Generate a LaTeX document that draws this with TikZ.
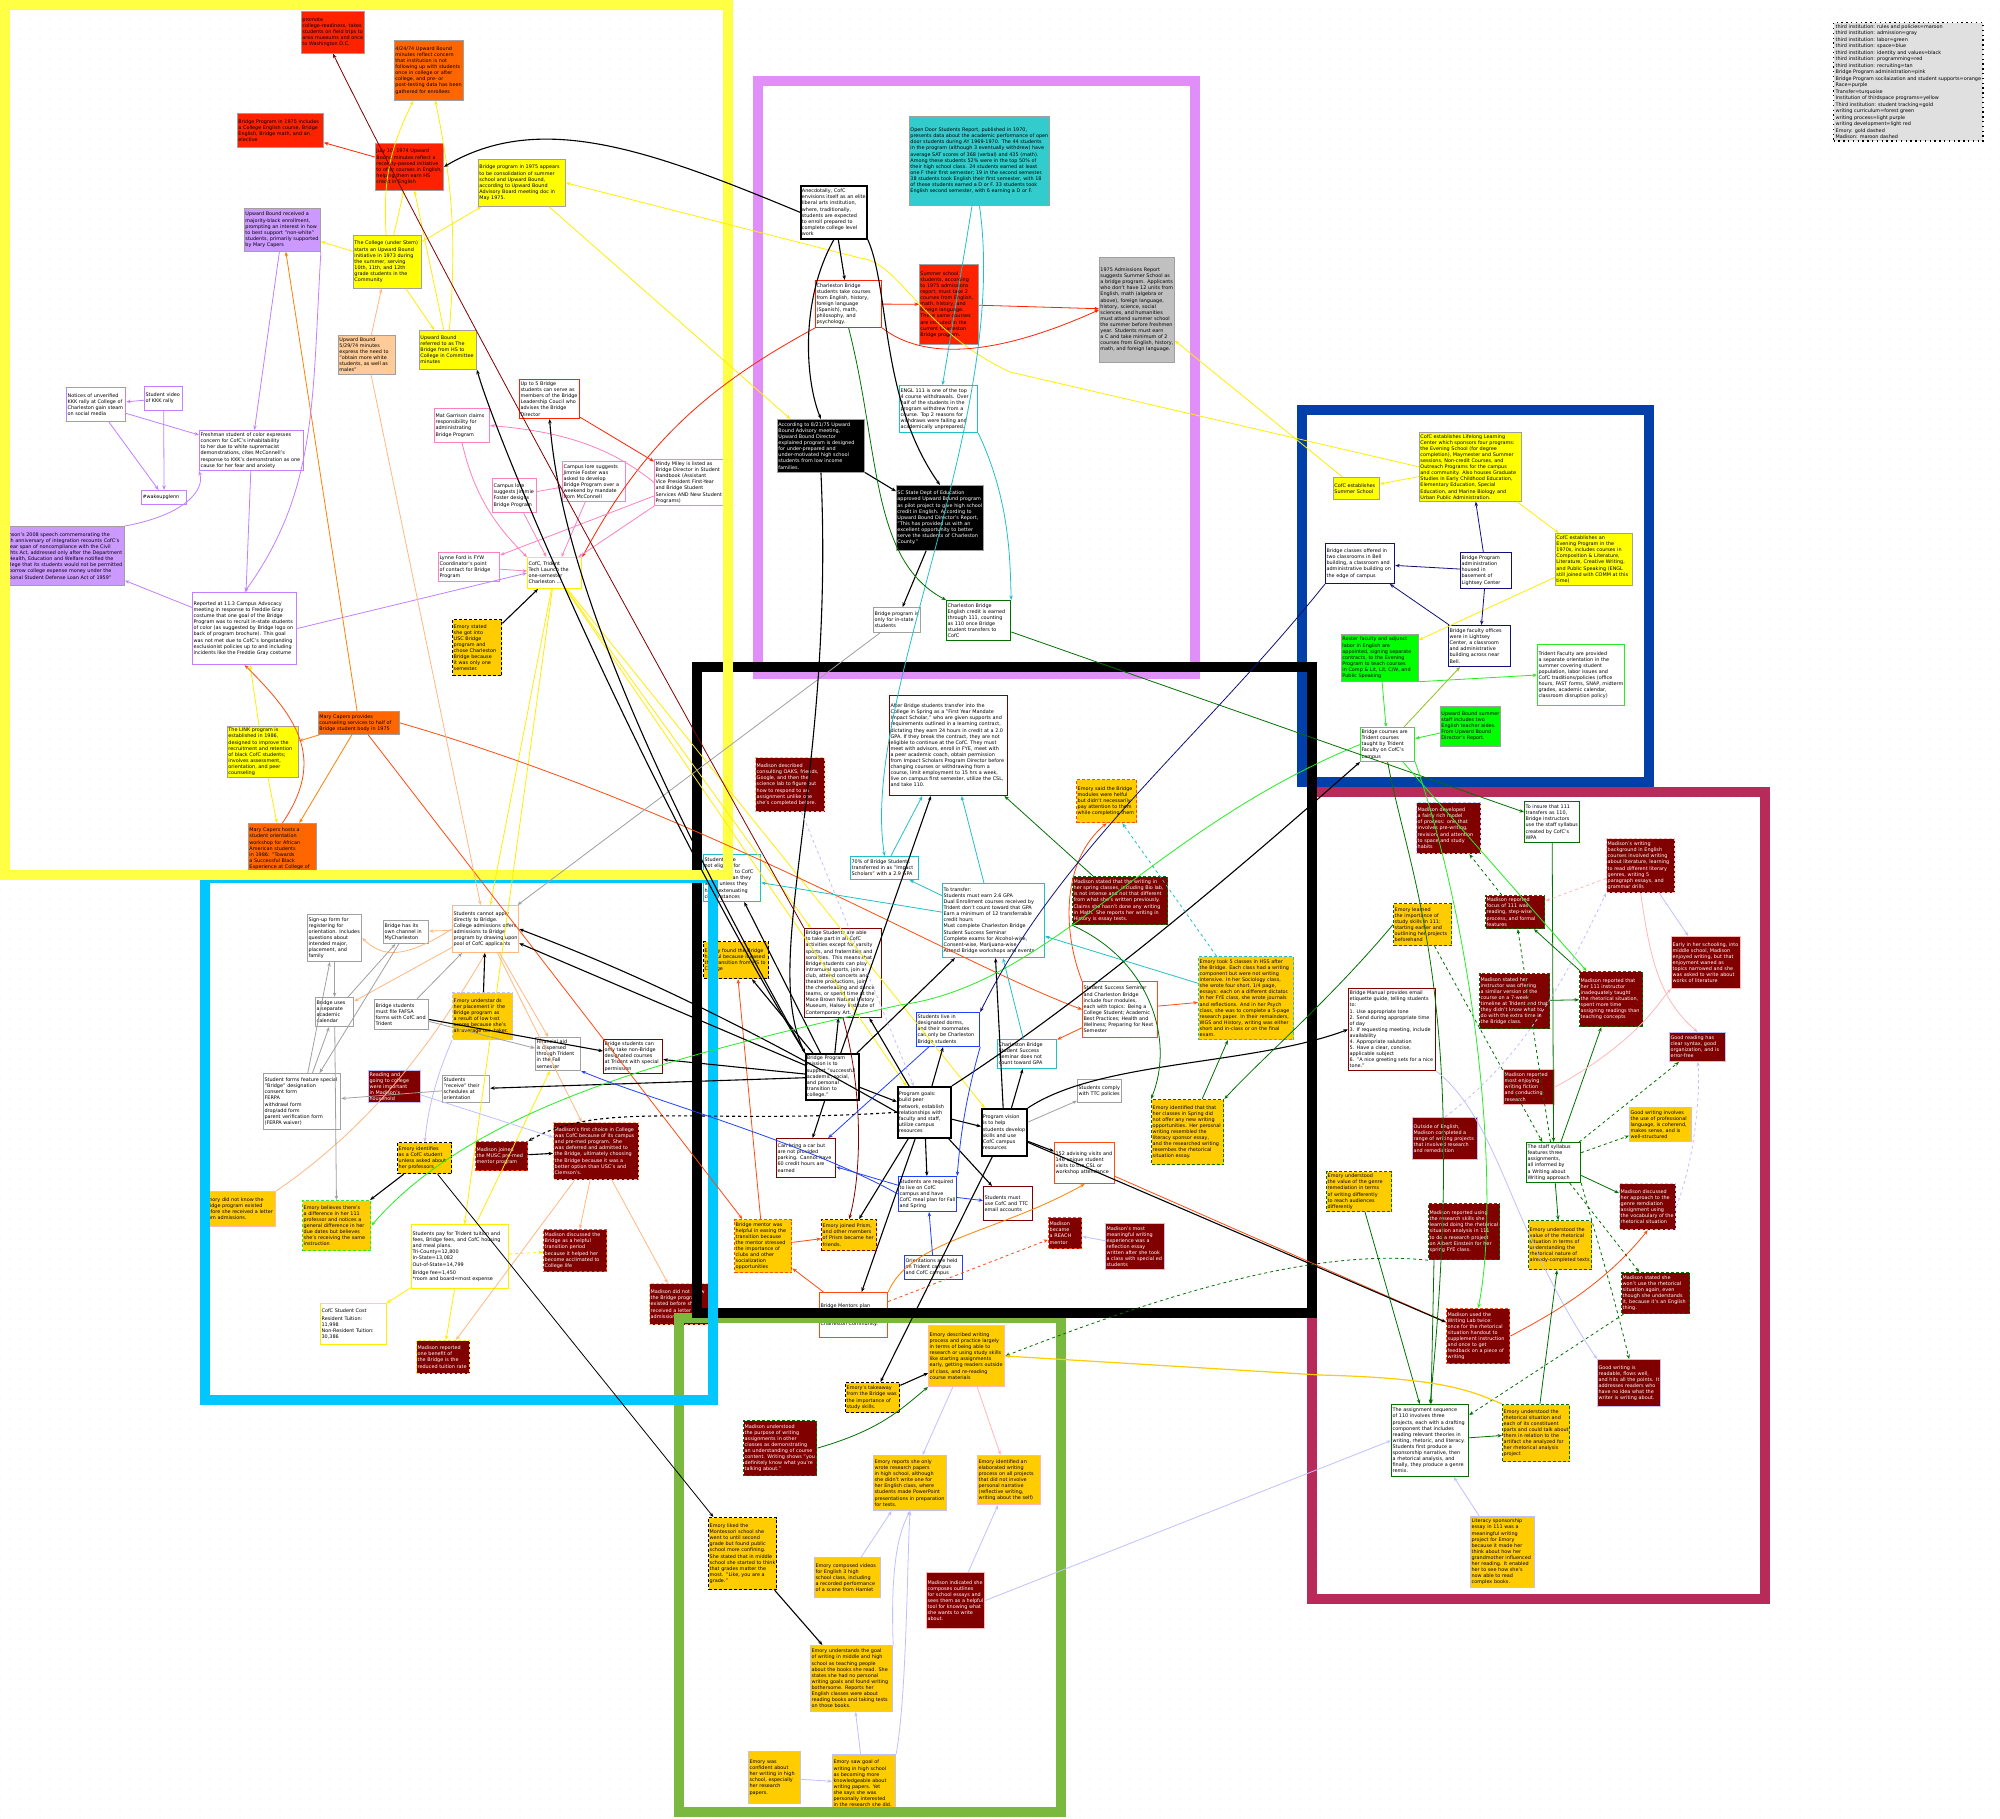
\documentclass[tikz,border=0pt]{standalone}
\usepackage{fontspec}
\setmainfont{DejaVu Sans}
\usetikzlibrary{arrows.meta,patterns.meta}
\definecolor{cYel}{HTML}{FFFF00}
\definecolor{cYelLine}{HTML}{FFEE00}
\definecolor{cRed}{HTML}{FF2200}
\definecolor{cOrg}{HTML}{FF6600}
\definecolor{cOrgLine}{HTML}{FF8000}
\definecolor{cOrRed}{HTML}{FF4A10}
\definecolor{cPur}{HTML}{CC99FF}
\definecolor{cPurLine}{HTML}{C080FF}
\definecolor{cTan}{HTML}{FFCC99}
\definecolor{cTanLine}{HTML}{FFB880}
\definecolor{cPink}{HTML}{FF80C0}
\definecolor{cTurq}{HTML}{33CCCC}
\definecolor{cTurqLine}{HTML}{20C0C8}
\definecolor{cGrayF}{HTML}{C0C0C0}
\definecolor{cGrayLine}{HTML}{A0A0A0}
\definecolor{cNavy}{HTML}{101078}
\definecolor{cBlue}{HTML}{2040FF}
\definecolor{cLime}{HTML}{00FF00}
\definecolor{cLimeLine}{HTML}{22EE22}
\definecolor{cOlive}{HTML}{90C020}
\definecolor{cForest}{HTML}{007000}
\definecolor{cMaroon}{HTML}{800000}
\definecolor{cGold}{HTML}{FFCC00}
\definecolor{cLilac}{HTML}{C0C0FF}
\definecolor{cLRed}{HTML}{FFB8B8}
\definecolor{frYel}{HTML}{FFFF44}
\definecolor{frPink}{HTML}{E08EF8}
\definecolor{frBlue}{HTML}{0040A8}
\definecolor{frCrim}{HTML}{B82A5A}
\definecolor{frCyan}{HTML}{00C8FF}
\definecolor{frGreen}{HTML}{7AB840}
\newcommand\mybox[7]{\node[#2, text width=#5pt, minimum height=#6pt] (#1) at (#3,#4) {#7};}
\begin{document}
\hyphenpenalty=10000
\exhyphenpenalty=10000
\begin{tikzpicture}[x=1pt,y=-1pt,
  bxbase/.style={rectangle, anchor=north west, inner sep=1.1pt, align=left, font=\fontsize{4.9}{6.1}\selectfont, line width=0.7pt},
  fY/.style={bxbase, fill=cYel, draw=cGrayLine},
  fR/.style={bxbase, fill=cRed, draw=cGrayLine},
  fO/.style={bxbase, fill=cOrg, draw=cGrayLine},
  fP/.style={bxbase, fill=cPur, draw=cGrayLine},
  fT/.style={bxbase, fill=cTan, draw=cGrayLine},
  fQ/.style={bxbase, fill=cTurq, draw=cGrayLine},
  fG/.style={bxbase, fill=cGrayF, draw=cGrayLine},
  fK/.style={bxbase, fill=black, text=white, draw=cGrayLine},
  fL/.style={bxbase, fill=cLime, draw=cGrayLine},
  fM/.style={bxbase, fill=cMaroon, text=white, draw=#1, line width=1pt},
  fAu/.style={bxbase, fill=cGold, draw=#1, line width=1pt},
  wb/.style={bxbase, fill=white, draw=#1, line width=1pt},
  wk/.style={bxbase, fill=white, draw=black, line width=1.6pt},
  dsh/.style={dash pattern=on 3pt off 2pt, line width=1.2pt},
  ar/.style={line width=0.8pt, -{Stealth[length=4.5pt,width=3.5pt]}},
  arb/.style={ar, line width=1.1pt, black}]
\useasboundingbox (0,0) rectangle (2000,1819);
\fill[white] (0,0) rectangle (2000,1819);
\fill[pattern={Dots[distance=10pt,radius=0.45pt]}, pattern color=black!25] (0,0) rectangle (2000,1819);

% ---------- nodes ----------
\mybox{n1}{fR}{301}{11}{61}{42}{promote college-readiness, takes students on field trips to area museums and once to Washington D.C.}
\mybox{n2}{fO}{394}{40}{67}{60}{4/24/74 Upward Bound minutes reflect concern that institution is not following up with students once in college or after college, and pre- or post-testing data has been gathered for enrollees}
\mybox{n3}{fR}{237}{113}{84}{34}{Bridge Program in 1975 includes a College English course, Bridge English, Bridge math, and an elective}
\mybox{n4}{fR}{375}{143}{66}{47}{July 10, 1974 Upward Bound minutes reflect a recently-passed initiative to offer courses in English, helping them earn HS credit in English}
\mybox{n5}{fY}{478}{159}{85}{47}{Bridge program in 1975 appears to be consolidation of summer school and Upward Bound, according to Upward Bound Advisory Board meeting doc in May 1975.}
\mybox{n6}{fP}{244}{208}{74}{43}{Upward Bound received a majority-black enrollment, prompting an interest in how to best support "non-white" students, primarily supported by Mary Capers}
\mybox{n7}{fY}{353}{235}{66}{53}{The College (under Stern) starts an Upward Bound initiative in 1973 during the summer, serving 10th, 11th, and 12th grade students in the Community}
\mybox{n8}{fT}{338}{335}{55}{39}{Upward Bound 5/29/74 minutes express the need to "obtain more white students, as well as males"}
\mybox{n9}{fY}{419}{330}{55}{39}{Upward Bound referred to as The Bridge from HS to College in Committee minutes}
\mybox{n10}{wb=cPurLine}{66}{387}{57}{34}{Notices of unverified KKK rally at College of Charleston gain steam on social media}
\mybox{n11}{wb=cPurLine}{144}{386}{36}{24}{Student video of KKK rally}
\mybox{n12}{wb=cPurLine}{141}{490}{43}{14}{\#wakeupglenn}
\mybox{n13}{wb=cPurLine}{199}{430}{102}{40}{Freshman student of color expresses concern for CofC's inhabitability to her due to white supremacist demonstrations, cites McConnell's response to KKK's demonstration as one cause for her fear and anxiety}
\mybox{n14}{fP}{1}{526}{121}{59}{Benson's 2008 speech commemorating the 50th anniversary of integration recounts CofC's 4-year span of noncompliance with the Civil Rights Act, addressed only after the Department of Health, Education and Welfare notified the College that its students would not be permitted to borrow college expense money under the National Student Defense Loan Act of 1959"}
\mybox{n15}{wb=cPurLine}{192}{592}{102}{72}{Reported at 11.3 Campus Advocacy meeting in response to Freddie Gray costume that one goal of the Bridge Program was to recruit in-state students of color (as suggested by Bridge logo on back of program brochure). This goal was not met due to CofC's longstanding exclusionist policies up to and including incidents like the Freddie Gray costume}
\mybox{n16}{wb=cPink}{434}{408}{53}{34}{Mat Garrison claims responsibility for administrating Bridge Program}
\mybox{n17}{wb=cPink}{492}{478}{42}{34}{Campus lore suggests Jimmie Foster designs Bridge Program}
\mybox{n18}{wb=cPink}{438}{552}{59}{29}{Lynne Ford is FYW Coordinator's point of contact for Bridge Program}
\mybox{n19}{wb=cRed}{519}{379}{58}{39}{Up to 5 Bridge students can serve as members of the Bridge Leadership Coucil who advises the Bridge Director}
\mybox{n20}{wb=cPink}{562}{461}{61}{40}{Campus lore suggests Jimmie Foster was asked to develop Bridge Program over a weekend by mandate from McConnell}
\mybox{n21}{wb=cPink}{654}{459}{67}{46}{Mindy Miley is listed as Bridge Director in Student Handbook (Assistant Vice President First-Year and Bridge Student Services AND New Student Programs)}
\mybox{n22}{wb=cYelLine}{527}{557}{52}{31}{CofC, Trident Tech Launch the one-semester Charleston ...}
\mybox{n23}{wk}{800}{185}{64}{53}{Anecdotally, CofC envisions itself as an elite liberal arts institution, where, traditionally, students are expected to enroll prepared to complete college level work}
\mybox{n24}{fQ}{909}{116}{138}{89}{Open Door Students Report, published in 1970, presents data about the academic performance of open door students during AY 1969-1970. The 44 students in the program (although 3 eventually withdrew) have average SAT scores of 368 (verbal) and 435 (math). Among these students 52\% were in the top 50\% of their high school class. 24 students earned at least one F their first semester; 19 in the second semester. 38 students took English their first semester, with 18 of these students earned a D or F. 33 students took English second semester, with 6 earning a D or F.}
\mybox{n25}{wb=cRed}{815}{280}{64}{47}{Charleston Bridge students take courses from English, history, foreign language (Spanish), math, philosophy, and psychology.}
\mybox{n26}{fR}{919}{264}{57}{80}{Summer school students, according to 1975 admissions report, must take 2 courses from English, math, history, and foreign language. These same courses are included in the current Charleston Bridge program.}
\mybox{n27}{wb=cTurqLine}{899}{385}{76}{47}{ENGL 111 is one of the top 4 course withdrawals. Over half of the students in the program withdrew from a course. Top 2 reasons for withdraws were failing and academically unprepared.}
\mybox{n28}{fK}{777}{419}{85}{53}{According to 8/21/75 Upward Bound Advisory meeting, Upward Bound Director explained program is designed for under-prepared and under-motivated high school students from low income families.}
\mybox{n29}{fK}{896}{485}{85}{65}{SC State Dept of Education approved Upward Bound program as pilot project to give high school credit in English. According to Upward Bound Director's Report, "This has provided us with an excellent opportunity to better serve the students of Charleston County."}
\mybox{n30}{wb=cForest}{946}{600}{62}{40}{Charleston Bridge English credit is earned through 111, counting as 110 once Bridge student transfers to CofC}
\mybox{n31}{fG}{1099}{257}{73}{105}{1975 Admissions Report suggests Summer School as a bridge program. Applicants who don't have 12 units from English, math (algebra or above), foreign language, history, science, social sciences, and humanities must attend summer school the summer before freshmen year. Students must earn a C and take minimum of 2 courses from English, history, math, and foreign language.}
\mybox{n32}{fY}{1333}{477}{44}{22}{CofC establishes Summer School}
\mybox{n33}{fY}{1419}{432}{100}{69}{CofC establishes Lifelong Learning Center which sponsors four programs: the Evening School (for degree completion), Maymester and Summer sessions, Non-credit Courses, and Outreach Programs for the campus and community. Also houses Graduate Studies in Early Childhood Education, Elementary Education, Special Education, and Marine Biology and Urban Public Administration.}
\mybox{n34}{wb=cNavy}{1325}{543}{67}{40}{Bridge classes offered in two classrooms in Bell building, a classroom and administrative building on the edge of campus}
\mybox{n35}{wb=cNavy}{1460}{552}{49}{36}{Bridge Program administration housed in basement of Lightsey Center}
\mybox{n37}{fY}{1555}{533}{75}{52}{CofC establishes an Evening Program in the 1970s, includes courses in Composition \& Literature, Literature, Creative Writing, and Public Speaking (ENGL still joined with COMM at this time)}
\mybox{n38}{fL}{1341}{634}{75}{47}{Roster faculty and adjunct labor in English are appointed, signing separate contracts, to the Evening Program to teach courses in Comp \& Lit, Lit, C/W, and Public Speaking}
\mybox{n39}{wb=cNavy}{1448}{625}{60}{41}{Bridge faculty offices were in Lightsey Center, a classroom and administrative building across near Bell.}
\mybox{n40}{wb=cLimeLine}{1360}{727}{52}{34}{Bridge courses are Trident courses taught by Trident Faculty on CofC's campus}
\mybox{n41}{fL}{1440}{706}{58}{40}{Upward Bound summer staff includes two English teacher aides. From Upward Bound Director's Report.}
\mybox{n42}{wb=cLimeLine}{1537}{644}{85}{61}{Trident Faculty are provided a separate orientation in the summer covering student population, labor issues and CofC traditions/policies (office hours, FAST forms, SNAP, midterm grades, academic calendar, classroom disruption policy)}
\mybox{n43}{wb=cGrayLine}{873}{607}{45}{25}{Bridge program is only for in-state students}
\mybox{n44}{wb=cMaroon}{889}{695}{116}{100}{After Bridge students transfer into the College in Spring as a "First Year Mandate Impact Scholar," who are given supports and requirements outlined in a learning contract, dictating they earn 24 hours in credit at a 2.0 GPA. If they break the contract, they are not eligible to continue at the CofC. They must meet with advisors, enroll in FYE, meet with a peer academic coach, obtain permission from Impact Scholars Program Director before changing courses or withdrawing from a course, limit employment to 15 hrs a week, live on campus first semester, utilize the CSL, and take 110.}
\mybox{n45}{fM=cTanLine,dsh}{755}{757}{67}{54}{Madison described consulting OAKS, friends, Google, and then the science lab to figure out how to respond to an assignment unlike one she's completed before.}
\mybox{n46}{wb=cTurqLine}{703}{854}{55}{47}{Students are not eligible for transferring to CofC early, nor can they leave unless they have extenuating circumstances}
\mybox{n47}{wb=cTurqLine}{850}{856}{66}{23}{70\% of Bridge Students transferred in as "Impact Scholars" with a 2.9 GPA}
\mybox{n48}{wb=cTurqLine}{942}{883}{100}{74}{To transfer:\\ *Students must earn 2.6 GPA\\ *Dual Enrollment courses received by Trident don't count toward that GPA\\ *Earn a minimum of 12 transferrable credit hours\\ *Must complete Charleston Bridge Student Success Seminar\\ *Complete exams for Alcohol-wise, Consent-wise, Marijuana-wise\\ *Attend Bridge workshops and events}
\mybox{n49}{fAu=black,dsh}{703}{941}{63}{37}{Emory found the Bridge helpful because it eased the transition from HS to College}
\mybox{n50}{wb=cMaroon}{804}{928}{75}{89}{Bridge Students are able to take part in all CofC activities except for varsity sports, and fraternities and sororities. This means that Bridge students can play intramural sports, join a club, attend concerts and theatre productions, join the cheerleading and dance teams, or spend time at the Mace Brown Natural History Museum, Halsey Institute of Contemporary Art.}
\mybox{n51}{wb=cBlue}{916}{1012}{61}{34}{Students live in designated dorms, and their roommates can only be Charleston Bridge students}
\mybox{n52}{wk}{805}{1053}{51}{46}{Bridge Program mission is to support "successful academic, social, and personal transition to college."}
\mybox{n53}{wk}{897}{1086}{51}{51}{Program goals: build peer network, establish relationships with faculty and staff, utilize campus resources}
\mybox{n54}{wb=cMaroon}{776}{1138}{57}{39}{Can bring a car but are not provided parking. Cannot have 60 credit hours are earned}
\mybox{n55}{wb=cBlue}{898}{1176}{56}{35}{Students are required to live on CofC campus and have CofC meal plan for Fall and Spring}
\mybox{n56}{wb=cMaroon}{983}{1186}{47}{34}{Students must use CofC and TTC email accounts}
\mybox{n57}{wk}{981}{1108}{43}{47}{Program vision is to help students develop skills and use CofC campus resources}
\mybox{n58}{wb=cMaroon}{603}{1039}{57}{34}{Bridge students can only take non-Bridge designated courses at Trident with special permission}
\mybox{n59}{wb=cGrayLine}{535}{1037}{43}{33}{Financial aid is dispersed through Trident in the Fall semester}
\mybox{n60}{fM=cTanLine,dsh}{553}{1122}{83}{57}{Madison's first choice in College was CofC because of its campus and pre-med program. She was deferred and admitted to the Bridge, ultimately choosing the Bridge because it was a better option than USC's and Clemson's.}
\mybox{n61}{fM=cOrRed,dsh}{475}{1141}{50}{29}{Madison joined the MUSC pre-med mentor program}
\mybox{n62}{fY}{227}{726}{69}{51}{The LINK program is established in 1986, designed to improve the recruitment and retention of black CofC students; involves assessment, orientation, and peer counseling}
\mybox{n63}{fO}{318}{711}{79}{23}{Mary Capers provides counseling services to half of Bridge student body in 1975}
\mybox{n64}{fO}{248}{823}{66}{56}{Mary Capers hosts a student orientation workshop for African American students in 1986: "Towards a Successful Black Experience at College of Charleston"}
\mybox{n65}{fAu=black,dsh}{452}{619}{47}{56}{Emory stated she got into USC Bridge program and chose Charleston Bridge because it was only one semester.}
\mybox{n66}{wb=cTanLine}{452}{905}{64}{47}{Students cannot apply directly to Bridge. College admissions offers admissions to Bridge program by drawing upon pool of CofC applicants}
\mybox{n67}{wb=cGrayLine}{307}{914}{52}{47}{Sign-up form for registering for orientation. Includes questions about intended major, placement, and family}
\mybox{n68}{wb=cGrayLine}{383}{920}{43}{23}{Bridge has its own channel in MyCharleston}
\mybox{n69}{wb=cGrayLine}{315}{997}{36}{29}{Bridge uses a separate academic calendar}
\mybox{n70}{wb=cGrayLine}{374}{999}{52}{30}{Bridge students must file FAFSA forms with CofC and Trident}
\mybox{n71}{fAu=cLilac,dsh}{452}{992}{58}{47}{Emory understands her placement in the Bridge program as a result of low test scores because she's an average test taker.}
\mybox{n72}{wb=cGrayLine}{263}{1073}{75}{56}{Student forms feature special "Bridge" designation\\ *consent form\\ *FERPA\\ *withdrawl form\\ *drop/add form\\ *parent verification form (FERPA waiver)}
\mybox{n73}{fM=cLilac}{368}{1070}{50}{32}{Reading and going to college were important in Madison's household}
\mybox{n74}{wb=cGrayLine}{442}{1075}{45}{27}{Students "receive" their schedules at orientation}
\mybox{n75}{fAu=black,dsh}{397}{1142}{52}{31}{Emory identifies as a CofC student unless asked about her professors}
\mybox{n76}{fAu=cLRed}{203}{1191}{70}{35}{Emory did not know the Bridge program existed before she received a letter from admissions.}
\mybox{n77}{fAu=cLimeLine,dsh}{302}{1200}{66}{50}{Emory believes there's a difference in her 111 professor and notices a general difference in her due dates but believes she's receiving the same instruction}
\mybox{n78}{wb=cYelLine}{411}{1224}{95}{64}{Students pay for Trident tuition and fees, Bridge fees, and CofC housing and meal plans.\\ Tri-County=12,800\\ In-State=13,082\\ Out-of-State=14,799\\[2pt] Bridge fee=1,450\\ **room and board=most expense}
\mybox{n79}{wb=cYelLine}{320}{1303}{64}{41}{CofC Student Cost\\[2pt] Resident Tuition:\\ 11,998\\ Non-Resident Tuition:\\ 30,386}
\mybox{n80}{fM=cYelLine,dsh}{416}{1340}{51}{33}{Madison reported one benefit of the Bridge is the reduced tuition rate}
\mybox{n81}{fM=cOrRed,dsh}{543}{1229}{61}{42}{Madison discussed the Bridge as a helpful transition period because it helped her become acclimated to College life}
\mybox{n82}{fM=cTanLine,dsh}{649}{1283}{57}{41}{Madison did not know the Bridge program existed before she received a letter from admissions}
\mybox{n83}{fAu=cOrRed,dsh}{734}{1219}{55}{53}{Bridge mentor was helpful in easing the transition because the mentor stressed the importance of clubs and other socialization opportunities}
\mybox{n84}{fAu=cMaroon,dsh}{821}{1219}{53}{31}{Emory joined Prism, and other members of Prism became her friends.}
\mybox{n85}{wb=cBlue}{904}{1255}{56}{24}{Orientations are held on Trident campus and CofC campus}
\mybox{n86}{wb=cOrRed}{819}{1292}{66}{45}{Bridge Mentors plan programs to help Bridge students connect with the Charleston Community.}
\mybox{n87}{fAu=cLRed}{928}{1325}{74}{61}{Emory described writing process and practice largely in terms of being able to research or using study skills like starting assignments early, getting readers outside of class, and re-reading course materials}
\mybox{n88}{fAu=black,dsh}{845}{1382}{52}{30}{Emory's takeaway from the Bridge was the importance of study skills.}
\mybox{n89}{fM=cForest,dsh}{743}{1420}{71}{55}{Madison understood the purpose of writing assignments in other classes as demonstrating an understanding of course content. Writing shows "you definitely know what you're talking about."}
\mybox{n90}{fAu=cLilac}{873}{1455}{71}{55}{Emory reports she only wrote research papers in high school, although she didn't write one for her English class, where students made PowerPoint presentations in preparation for tests.}
\mybox{n91}{fAu=cLRed}{977}{1455}{61}{49}{Emory identified an elaborated writing process on all projects that did not involve personal narrative (reflective writing, writing about the self)}
\mybox{n92}{fAu=black,dsh}{708}{1517}{66}{72}{Emory liked the Montessori school she went to until second grade but found public school more confining. She stated that in middle school she started to think that grades matter the most. "Like, you are a grade."}
\mybox{n93}{fAu=cLilac}{814}{1557}{64}{40}{Emory composed videos for English 3 high school class, including a recorded performance of a scene from Hamlet}
\mybox{n94}{fM=cLRed}{926}{1572}{56}{56}{Madison indicated she composes outlines for school essays and sees them as a helpful tool for knowing what she wants to write about.}
\mybox{n95}{fAu=cLilac}{810}{1645}{80}{66}{Emory understands the goal of writing in middle and high school as teaching people about the books she read. She states she had no personal writing goals and found writing bothersome. Reports her English classes were about reading books and taking tests on those books.}
\mybox{n96}{fAu=cLilac}{748}{1751}{50}{52}{Emory was confident about her writing in high school, especially her research papers.}
\mybox{n97}{fAu=cLilac}{832}{1754}{61}{58}{Emory saw goal of writing in high school as becoming more knowledgeable about writing papers. Yet she says she was personally interested in the research she did.}
\mybox{n98}{fAu=cOrRed,dsh}{1076}{779}{58}{43}{Emory said the Bridge modules were helful but didn't necessarily pay attention to them while completing them}
\mybox{n99}{fM=cForest,dsh}{1072}{876}{93}{48}{Madison stated that the writing in her spring classes, including Bio lab, is not intense and not that different from what she's written previously. Claims she hasn't done any writing in Math. She reports her writing in History is essay tests.}
\mybox{n100}{fAu=cTurqLine,dsh}{1198}{956}{93}{83}{Emory took 5 classes in HSS after the Bridge. Each class had a writing component but were not writing intensive. In her Sociology class, she wrote four short, 1/4 page, essays: each on a different dictator. In her FYE class, she wrote journals and reflections. And in her Psych class, she was to complete a 5-page research paper. In their remainders, WGS and History, writing was either short and in-class or on the final exam.}
\mybox{n101}{wb=cOrRed}{1082}{981}{73}{56}{Student Success Seminar and Charleston Bridge include four modules, each with topics: Being a College Student; Academic Best Practices; Health and Wellness; Preparing for Next Semester}
\mybox{n102}{wb=cTurqLine}{997}{1039}{57}{29}{Charleston Bridge Student Success Seminar does not count toward GPA}
\mybox{n103}{wb=cGrayLine}{1077}{1079}{42}{23}{Students comply with TTC policies}
\mybox{n104}{wb=cOrRed}{1054}{1142}{58}{41}{152 advising visits and 146 unique student visits to the CSL or workshop attendance}
\mybox{n105}{fAu=cForest,dsh}{1151}{1099}{70}{65}{Emory identified that that her classes in Spring did not offer any new writing opportunities. Her perosnal writing resembled the literacy sponsor essay, and the researched writing resembes the rhetorical situation essay.}
\mybox{n106}{fM=cLilac,dsh}{1416}{802}{62}{51}{Madison developed a fairly rich model of process: one that involves pre-writing, revision, and attention to space and study habits}
\mybox{n107}{fAu=cForest,dsh}{1393}{903}{56}{42}{Emory learned the importance of study skills in 111: starting earlier and outlining her projects beforehand}
\mybox{n108}{wb=cMaroon}{1348}{988}{85}{82}{Bridge Manual provides email etiquette guide, telling students to:\\ 1. Use appropriate tone\\ 2. Send during appropriate time of day\\ 3. If requesting meeting, include availability\\ 4. Appropriate salutation\\ 5. Have a clear, concise, applicable subject\\ 6. "A nice greeting sets for a nice tone."}
\mybox{n109}{fM=cForest,dsh}{1485}{895}{57}{33}{Madison reported focus of 111 was reading, step-wise process, and formal features}
\mybox{n110}{fM=cForest,dsh}{1479}{973}{68}{55}{Madison stated her instructor was offering a similar version of the course on a 7-week timeline at Trident and that they didn't know what to do with the extra time in the Bridge class.}
\mybox{n111}{fM=cLilac}{1412}{1117}{63}{42}{Outside of English, Madison completed a range of writing projects that involved research and remediation}
\mybox{n112}{fAu=cForest,dsh}{1326}{1171}{63}{40}{Emory understood the value of the genre remediation in terms of writing differently to reach audiences differently}
\mybox{n113}{fM=cForest,dsh}{1428}{1203}{69}{56}{Madison reported using the research skills she learned doing the rhetorical situation analysis in 111 to do a research project on Albert Einstein for her spring FYE class.}
\mybox{n114}{wb=cForest}{1524}{801}{53}{41}{To insure that 111 transfers as 110, Bridge instructors use the staff syllabus created by CofC's WPA}
\mybox{n115}{fM=cLRed,dsh}{1606}{838}{66}{54}{Madison's writing background in English courses involved writing about literature, learning to read different literary genres, writing 5 paragraph essays, and grammar drills}
\mybox{n116}{fM=cLRed}{1671}{936}{67}{52}{Early in her schooling, into middle school, Madison enjoyed writing, but that enjoyment waned as topics narrowed and she was asked to write about works of literature}
\mybox{n117}{fM=cForest,dsh}{1579}{971}{61}{55}{Madison reported that her 111 instructor inadequately taught the rhetorical situation, spent more time assigning readings than teaching concepts}
\mybox{n118}{fM=cLilac}{1669}{1032}{54}{29}{Good reading has clear syntax, good organization, and is error-free}
\mybox{n119}{fM=cLRed}{1503}{1069}{49}{35}{Madison reported most enjoying writing fiction and conducting research}
\mybox{n120}{fAu=cLilac}{1629}{1107}{60}{34}{Good writing involves the use of professional language, is coherend, makes sense, and is well-structured}
\mybox{n121}{wb=cForest}{1526}{1142}{52}{40}{The staff syllabus features three assignments, all informed by a Writing about Writing approach}
\mybox{n122}{fM=cLilac,dsh}{1619}{1183}{54}{46}{Madison discussed her approach to the genre remdiation assignment using the vocabulary of the rhetorical situation}
\mybox{n123}{fAu=cForest,dsh}{1528}{1220}{61}{49}{Emory understood the value of the rhetorical situation in terms of understanding the rhetorical nature of already-completed texts}
\mybox{n124}{fM=cForest,dsh}{1621}{1272}{66}{41}{Madison stated she won't use the rhetorical situation again, even though she understands it, because it's an English thing.}
\mybox{n125}{fM=cLilac}{1597}{1359}{61}{47}{Good writing is readable, flows well, and hits all the points. It addresses readers who have no idea what the writer is writing about.}
\mybox{n126}{fAu=cForest,dsh}{1502}{1404}{65}{57}{Emory understood the rhetorical situation and each of its constituent parts and could talk about them in relation to the artifact she analyzed for her rhetorical analysis project}
\mybox{n127}{fAu=cLilac}{1470}{1516}{62}{71}{Literacy sponsorship essay in 111 was a meaningful writing project for Emory because it made her think about how her grandmother influenced her reading. It enabled her to see how she's now able to read complex books.}
\mybox{n128}{fM=cOrRed,dsh}{1446}{1308}{61}{55}{Madison used the Writing Lab twice: once for the rhetorical situation handout to supplement instruction and once to get feedback on a piece of writing}
\mybox{n129}{wb=cForest}{1391}{1404}{75}{72}{The assignment sequence of 110 involves three projects, each with a drafting component that includes reading relevant theories in writing, rhetoric, and literacy. Students first produce a sponsorship narrative, then a rhetorical analysis, and finally, they produce a genre remix.}
\mybox{n130}{fM=cOrRed,dsh}{1048}{1217}{31}{31}{Madison became a REACH mentor}
\mybox{n131}{fM=cLilac}{1105}{1223}{57}{46}{Madison's most meaningful writing experience was a reflection essay written after she took a class with special ed students}

\node[anchor=north west, fill=black!12, draw=black, line width=1.3pt, dash pattern=on 1.3pt off 3.5pt, inner sep=2pt, align=left, font=\fontsize{4.9}{6.5}\selectfont] (n36) at (1833,22) {third institution: rules and policies=maroon\\ third institution: admission=gray\\ third institution: labor=green\\ third institution: space=blue\\ third institution: identity and values=black\\ third institution: programming=red\\ third institution: recruiting=tan\\ Bridge Program administration=pink\\ Bridge Program socilaization and student supports=orange\\ Race=purple\\ Transfer=turquoise\\ Institution of thirdspace programs=yellow\\ Third institution: student tracking=gold\\ writing curriculum=forest green\\ writing process=light purple\\ writing development=light red\\ Emory: gold dashed\\ Madison: maroon dashed};

% ---------- frames ----------
\draw[line width=10pt, frGreen] (679,1318) rectangle (1061,1812);
\draw[line width=10pt, frCrim] (1312,792) rectangle (1765,1599);
\draw[line width=10pt, frBlue] (1302,410) rectangle (1649,782);
\draw[line width=10pt, frPink] (758,81) rectangle (1195,674);
\draw[line width=10pt, black] (697,667) rectangle (1312,1313);
\draw[line width=10pt, frCyan] (205,878) rectangle (713,1400);
\draw[line width=10pt, frYel] (5,5) rectangle (728,875);

% ---------- connectors ----------
% yellow
\draw[ar,cYelLine] (n7) to[bend left=15] (n2);
\draw[ar,cYelLine] (n7) -- (n4);
\draw[ar,cYelLine] (n7) -- (n5);
\draw[ar,cYelLine] (n7) -- (n6);
\draw[ar,cYelLine] (n7) -- (n9);
\draw[ar,cYelLine] (n9) to[bend right=8] (n2);
\draw[ar,cYelLine] (n9) -- (n4);
\draw[ar,cYelLine] (n5) -- (n28);
\draw[ar,cYelLine] (n33.west) -- (1010,372) .. controls (920,330) and (900,262) .. (860,258) -- (n5.east);
\draw[ar,cYelLine] (n32) -- (n31);
\draw[ar,cYelLine] (n33) -- (n32);
\draw[ar,cYelLine] (n33) -- (n37);
\draw[ar,cYelLine] (n37) -- (n38);
\draw[ar,cYelLine] (n62) -- (n15);
\draw[ar,cYelLine] (n62) -- (n64);
\draw[ar,cYelLine] (n22) -- (n66);
\draw[ar,cYelLine] (n22) -- (n50);
\draw[ar,cYelLine] (n22) -- (n53);
\draw[ar,cYelLine] (n22) -- (n57);
\draw[ar,cYelLine] (n22) -- (n78);
\draw[ar,cYelLine] (n78) -- (n79);
\draw[ar,cYelLine] (n78) -- (n80);
\draw[ar,cYelLine] (n78) -- (n59);
\draw[ar,cYelLine,dashed] (n78) -- (n81);
% red
\draw[ar,cRed] (n4) -- (n3);
\draw[ar,cRed] (n19) -- (n21);
\draw[ar,cRed] (n25.south west) .. controls (700,390) and (640,450) .. (n22.north east);
\draw[ar,cRed] (n25) -- (n26);
\draw[ar,cRed] (n26) -- (n31);
\draw[ar,cRed] (n25.south east) .. controls (930,365) and (1010,350) .. (n31.west);
% orange
\draw[ar,cOrgLine] (n63) -- (n6);
\draw[ar,cOrgLine] (n63) -- (n62);
\draw[ar,cOrgLine] (n63) -- (n64);
\draw[ar,cOrgLine] (n86.north east) .. controls (910,1240) and (1000,1232) .. (n104.south);
\draw[ar,cOrRed] (n64.north) .. controls (325,760) and (300,720) .. (n15.south);
\draw[ar,cOrRed] (n63.east) .. controls (700,810) and (950,960) .. (n101.west);
\draw[ar,cOrRed] (n63) -- (n83);
\draw[ar,cOrRed] (n101.north west) .. controls (1062,930) and (1062,860) .. (n98.south);
\draw[ar,cOrRed] (n101) -- (n100);
\draw[ar,cOrRed] (n101) -- (n102);
\draw[ar,cOrRed] (n104) -- (n128);
\draw[ar,cOrRed] (n83) -- (n49);
\draw[ar,cOrRed] (n83) -- (n84);
\draw[ar,cOrRed] (n86) -- (n83);
\draw[ar,cOrRed,dashed] (n86) -- (n130);
\draw[ar,cOrRed] (n128.east) .. controls (1540,1320) and (1600,1290) .. (n122.south);
% purple
\draw[ar,cPurLine] (n6) -- (n13);
\draw[ar,cPurLine] (n6.south east) .. controls (312,400) and (318,490) .. (n15.north);
\draw[ar,cPurLine] (n11) -- (n10);
\draw[ar,cPurLine] (n11) -- (n12);
\draw[ar,cPurLine] (n10) -- (n12);
\draw[ar,cPurLine] (n10) -- (n13);
\draw[ar,cPurLine] (n14.north east) .. controls (185,515) and (205,490) .. (n13.south west);
\draw[ar,cPurLine] (n13) -- (n15);
\draw[ar,cPurLine] (n15) -- (n14);
\draw[ar,cPurLine] (n15.east) -- (n22.west);
% pink
\draw[ar,cPink] (n21.west) .. controls (600,438) and (540,430) .. (n16.east);
\draw[ar,cPink] (n21) -- (n18);
\draw[ar,cPink] (n17) -- (n20);
\draw[ar,cPink] (n17) -- (n22);
\draw[ar,cPink] (n20) -- (n22);
\draw[ar,cPink] (n21) -- (n22);
\draw[ar,cPink] (n18) -- (n22);
\draw[ar,cPink] (n16.south) .. controls (475,500) and (500,530) .. (n22.north west);
% tan
\draw[ar,cTanLine] (n8) -- (n7);
\draw[ar,cTanLine] (n8) -- (n66);
\draw[ar,cTanLine] (n66.west) .. controls (400,962) and (380,955) .. (n67.east);
\draw[ar,cTanLine] (n66) -- (n68);
\draw[ar,cTanLine] (n66) -- (n69);
\draw[ar,cTanLine] (n66) -- (n59);
\draw[ar,cTanLine] (n66) -- (n60);
\draw[ar,cTanLine] (n76.north east) .. controls (380,1120) and (440,1030) .. (n66.south);
\draw[ar,cTanLine] (n60) -- (n81);
\draw[ar,cTanLine] (n60) -- (n82);
\draw[ar,cTanLine] (n60) -- (n80);
% gray
\draw[ar,cGrayLine] (n67) -- (n69);
\draw[ar,cGrayLine] (n72) -- (n67);
\draw[ar,cGrayLine] (n72) -- (n69);
\draw[ar,cGrayLine] (n69) -- (n68);
\draw[ar,cGrayLine] (n68) -- (n72);
\draw[ar,cGrayLine] (n69) -- (n77);
\draw[ar,cGrayLine] (n70) -- (n66);
\draw[ar,cGrayLine] (n74) -- (n72);
\draw[ar,cGrayLine] (n70) -- (n59);
\draw[ar,cGrayLine] (n43) -- (n66);
\draw[ar,cGrayLine] (n57) -- (n103);
% black
\draw[arb] (n23.west) .. controls (650,150) and (540,110) .. (n4.east);
\draw[arb] (n23) -- (n25);
\draw[arb] (n23.south) .. controls (800,300) and (805,380) .. (n28.north);
\draw[arb] (n23.south east) .. controls (890,290) and (880,400) .. (n29.north);
\draw[arb] (n28) -- (n29);
\draw[arb] (n29) -- (n43);
\draw[arb] (n28.south) .. controls (835,780) and (760,960) .. (n52.north west);
\draw[arb] (n52.north west) .. controls (650,800) and (500,450) .. (n9.south east);
\draw[arb] (n52.north west) .. controls (640,760) and (560,560) .. (n19.south);
\draw[arb] (n65) -- (n22);
\draw[arb] (n52) -- (n50);
\draw[arb] (n53) -- (n50);
\draw[arb] (n52) -- (n53);
\draw[arb] (n52) -- (n54);
\draw[arb] (n53) -- (n55);
\draw[arb] (n53) -- (n51);
\draw[arb] (n52) -- (n44);
\draw[arb] (n52) -- (n48);
\draw[arb] (n57) -- (n48);
\draw[arb] (n57) -- (n102);
\draw[arb] (n57) -- (n104);
\draw[arb] (n57.north east) .. controls (1100,1060) and (1250,1066) .. (n108.west);
\draw[arb] (n53.north east) .. controls (1100,990) and (1260,850) .. (n40.south west);
\draw[arb] (n57) -- (n128);
\draw[arb] (n52) -- (n66);
\draw[arb] (n53.west) .. controls (700,1000) and (600,960) .. (n66.east);
\draw[arb] (n52) -- (n58);
\draw[arb] (n52) -- (n49);
\draw[arb] (n52) -- (n46);
\draw[arb] (n75) -- (n77);
\draw[arb] (n71) -- (n66);
\draw[arb] (n52) -- (n74);
\draw[arb] (n61) -- (n60);
\draw[arb] (n70) -- (n58);
\draw[arb] (n92) -- (n95);
\draw[ar,black] (n75) -- (n92);
\draw[arb] (n57) -- (n88);
\draw[arb] (n88) -- (n87);
\draw[arb] (n53) -- (n84);
\draw[arb] (n53) -- (n86);
\draw[arb] (n53) -- (n57);
\draw[arb] (n53) -- (n56);
\draw[arb,dashed] (n53.west) .. controls (700,1125) and (600,1100) .. (n61.north east);
% turquoise
\draw[ar,cTurqLine] (n24) -- (n27);
\draw[ar,cTurqLine] (n24.south) .. controls (1010,420) and (860,700) .. (n47.north);
\draw[ar,cTurqLine] (n27.south east) .. controls (1010,500) and (1010,560) .. (n30.north east);
\draw[ar,cTurqLine] (n47) -- (n44);
\draw[ar,cTurqLine] (n48) -- (n44);
\draw[ar,cTurqLine] (n48) -- (n46);
\draw[ar,cTurqLine] (n48) -- (n47);
\draw[ar,cTurqLine] (n100) -- (n48);
\draw[ar,cTurqLine] (n102) -- (n48);
\draw[ar,cTurqLine,dashed] (n100) -- (n98);
% forest green
\draw[ar,cForest] (n25.south) .. controls (880,450) and (870,560) .. (n30.north west);
\draw[ar,cForest] (n30) -- (n114);
\draw[ar,cForest] (n89.east) .. controls (880,1430) and (900,1410) .. (n87.south west);
\draw[ar,cForest] (n99) -- (n44);
\draw[ar,cForest] (n99.south west) .. controls (1150,960) and (1175,1040) .. (n105.north west);
\draw[ar,cForest] (n105) -- (n100);
\draw[ar,cForest] (n107.west) .. controls (1330,1000) and (1260,1060) .. (n105.north east);
\draw[ar,cForest,dashed] (n107) -- (n121);
\draw[ar,cForest] (n114) -- (n121);
\draw[ar,cForest] (n121) -- (n117);
\draw[ar,cForest,dashed] (n121) -- (n118);
\draw[ar,cForest,dashed] (n121) -- (n120);
\draw[ar,cForest] (n121) -- (n122);
\draw[ar,cForest,dashed] (n121) -- (n109);
\draw[ar,cForest] (n110) -- (n117);
\draw[ar,cForest] (n117) -- (n109);
\draw[ar,cForest,dashed] (n109) -- (n106);
\draw[ar,cForest] ([xshift=6pt]n113.south west) -- ([xshift=40pt]n129.north west);
\draw[ar,cForest] (n40.south) .. controls (1410,880) and (1470,1000) .. (n129.north);
\draw[ar,cForest] (n112) -- (n129);
\draw[ar,cForest] (n129) -- (n126);
\draw[ar,cForest] (n121) -- (n123);
\draw[ar,cForest] (n126) -- (n123);
\draw[ar,cForest,dashed] (n121.south east) .. controls (1600,1250) and (1615,1300) .. (n125.north);
\draw[ar,cForest,dashed] (n121) -- (n124);
\draw[ar,cForest,dashed] (n124) -- (n129);
\draw[ar,cForest,dashed] (n113.south west) .. controls (1330,1250) and (1200,1280) .. (n87.east);
% lime
\draw[ar,cLimeLine] (n38) -- (n40);
\draw[ar,cLimeLine] (n41) -- (n40);
\draw[ar,cLimeLine] (n38.south east) -- (n42.west);
\draw[ar,cOlive] (n40) -- (n39);
\draw[ar,cLimeLine] (n40.west) .. controls (1150,830) and (1050,985) .. (900,1005) .. controls (700,1050) and (480,1100) .. (n77.east);
\draw[ar,cLimeLine] (n40) -- (n117);
\draw[ar,cLimeLine] (n40.south east) .. controls (1480,950) and (1500,1200) .. (n128.north);
% navy
\draw[ar,cNavy] (n35) -- (n34);
\draw[ar,cNavy] (n35) -- (n33);
\draw[ar,cNavy] (n35) -- (n39);
\draw[ar,cNavy] (n39) -- (n34);
\draw[ar,cNavy] (n34.south west) .. controls (1200,740) and (1060,850) .. (n51.north east);
% blue
\draw[ar,cBlue] (n51.south east) .. controls (965,1100) and (960,1140) .. (n55.north east);
\draw[ar,cBlue] (n55) -- (n54);
\draw[ar,cBlue] (n55) -- (n56);
\draw[ar,cBlue] (n55.west) .. controls (800,1140) and (650,1100) .. (n59.south east);
\draw[ar,cBlue] (n85) -- (n55);
\draw[ar,cBlue] (n51) -- (n54);
% maroon
\draw[ar,cMaroon] (n50.north west) .. controls (620,600) and (430,250) .. (n1.south);
\draw[ar,cMaroon] (n50.south) .. controls (865,1100) and (860,1180) .. (n84.north);
% light purple
\draw[ar,cLilac] (n71.south west) .. controls (435,1080) and (428,1110) .. (n75.north);
\draw[ar,cLilac] (n73) -- (n60);
\draw[ar,cLilac,dashed] (n45) -- (n53);
\draw[ar,cLilac] (n131) -- (n130);
\draw[ar,cLilac] (n93) -- (n90);
\draw[ar,cLilac] (n95.north east) .. controls (890,1560) and (900,1530) .. (n90.south);
\draw[ar,cLilac] (n97.north east) .. controls (907,1692) and (907,1560) .. (n90.south);
\draw[ar,cLilac] (n96) -- (n97);
\draw[ar,cLilac] (n97) -- (n95);
\draw[ar,cLilac] (n87) -- (n90);
\draw[ar,cLilac] (n94) -- (n91);
\draw[ar,cLilac] (n94.east) -- (n129.west);
\draw[ar,cLilac] (n127) -- (n129);
\draw[ar,cLilac] (n115) -- (n116);
\draw[ar,cLilac,dashed] (n122.east) .. controls (1698,1150) and (1700,1080) .. (n118.south);
\draw[ar,cLilac] (n108.south east) .. controls (1500,1122) and (1510,1230) .. (n125.north west);
\draw[ar,cLilac,dashed] (n111.north) .. controls (1520,1060) and (1560,990) .. (n115.south west);
% light red
\draw[ar,cLRed] (n87) -- (n91);
\draw[ar,cLRed,dashed] (n115) -- (n109);
\draw[ar,cLRed] (n115.south) .. controls (1650,960) and (1660,1000) .. (n118.north);
\draw[ar,cLRed] (n119.east) .. controls (1640,1040) and (1660,1000) .. (n116.south west);
% gold
\draw[ar,cGold,line width=1.2pt] (n126.north west) .. controls (1470,1390) and (1440,1378) .. (1320,1375) -- (n87.east);
\end{tikzpicture}
\end{document}
